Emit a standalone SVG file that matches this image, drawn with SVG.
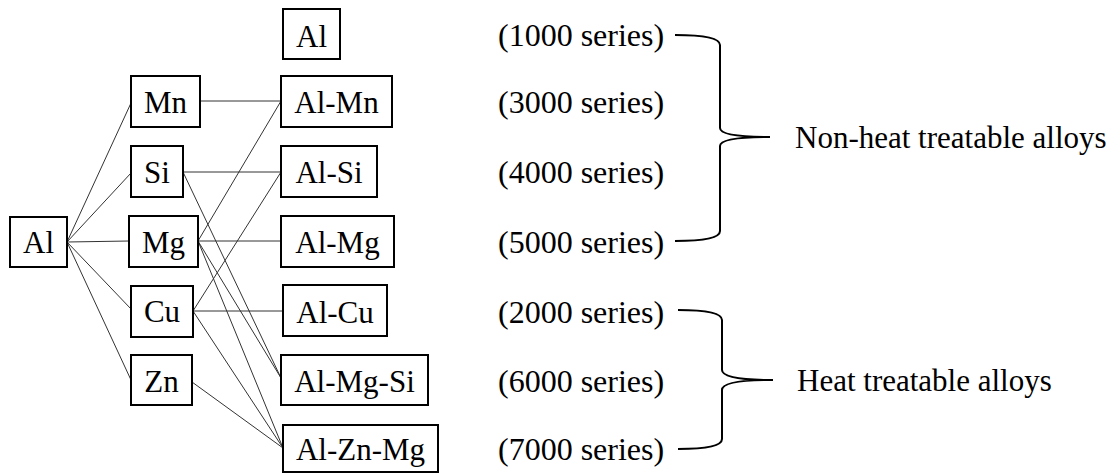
<svg xmlns="http://www.w3.org/2000/svg" width="1117" height="474" viewBox="0 0 1117 474">
<style>
  .box { fill: #ffffff; stroke: #000000; stroke-width: 2; }
  .lbl { font-family: "Liberation Serif", "Times New Roman", serif; font-size: 31px; fill: #000000; text-anchor: middle; }
  .ser { font-family: "Liberation Serif", "Times New Roman", serif; font-size: 32px; fill: #000000; }
  .grp { font-family: "Liberation Serif", "Times New Roman", serif; font-size: 31px; fill: #000000; }
  .con { stroke: #333333; stroke-width: 1; fill: none; }
  .brace { stroke: #000000; stroke-width: 2; fill: none; }
</style>
<rect width="1117" height="474" fill="#ffffff"/>

<g id="connectors">
  <line class="con" x1="67" y1="242" x2="131" y2="103"/>
  <line class="con" x1="67" y1="242" x2="131" y2="173"/>
  <line class="con" x1="67" y1="242" x2="129" y2="241"/>
  <line class="con" x1="67" y1="242" x2="131" y2="309"/>
  <line class="con" x1="67" y1="242" x2="131" y2="380"/>
  <line class="con" x1="200" y1="101" x2="281" y2="101"/>
  <line class="con" x1="183" y1="172" x2="281" y2="172"/>
  <line class="con" x1="183" y1="172" x2="281" y2="378"/>
  <line class="con" x1="198" y1="241" x2="281" y2="101"/>
  <line class="con" x1="198" y1="241" x2="281" y2="241"/>
  <line class="con" x1="198" y1="241" x2="281" y2="378"/>
  <line class="con" x1="198" y1="241" x2="283" y2="448"/>
  <line class="con" x1="193" y1="311" x2="281" y2="172"/>
  <line class="con" x1="193" y1="311" x2="283" y2="311"/>
  <line class="con" x1="193" y1="311" x2="283" y2="448"/>
  <line class="con" x1="192" y1="382" x2="283" y2="448"/>
</g>

<g id="node-al-base"><rect class="box" x="10" y="217" width="57" height="50"/><text class="lbl" x="38.5" y="253">Al</text></g>
<g id="node-mn"><rect class="box" x="131" y="76" width="69" height="51"/><text class="lbl" x="165.5" y="113">Mn</text></g>
<g id="node-si"><rect class="box" x="131" y="146" width="52" height="51"/><text class="lbl" x="157" y="183">Si</text></g>
<g id="node-mg"><rect class="box" x="129" y="216" width="69" height="51"/><text class="lbl" x="163.5" y="253">Mg</text></g>
<g id="node-cu"><rect class="box" x="131" y="286" width="62" height="51"/><text class="lbl" x="162" y="322">Cu</text></g>
<g id="node-zn"><rect class="box" x="131" y="355" width="61" height="50"/><text class="lbl" x="161.5" y="392">Zn</text></g>

<g id="node-al"><rect class="box" x="283" y="9" width="57" height="50"/><text class="lbl" x="311.5" y="47">Al</text></g>
<g id="node-al-mn"><rect class="box" x="281" y="76" width="111" height="51"/><text class="lbl" x="336.5" y="113">Al-Mn</text></g>
<g id="node-al-si"><rect class="box" x="281" y="146" width="96" height="51"/><text class="lbl" x="329" y="183">Al-Si</text></g>
<g id="node-al-mg"><rect class="box" x="281" y="216" width="113" height="51"/><text class="lbl" x="337.5" y="253">Al-Mg</text></g>
<g id="node-al-cu"><rect class="box" x="283" y="285" width="104" height="51"/><text class="lbl" x="335" y="323">Al-Cu</text></g>
<g id="node-al-mg-si"><rect class="box" x="281" y="355" width="147" height="50"/><text class="lbl" x="354.5" y="392">Al-Mg-Si</text></g>
<g id="node-al-zn-mg"><rect class="box" x="283" y="425" width="155" height="47"/><text class="lbl" x="360.5" y="460">Al-Zn-Mg</text></g>

<g id="series">
  <text class="ser" x="498" y="46">(1000 series)</text>
  <text class="ser" x="498" y="113">(3000 series)</text>
  <text class="ser" x="498" y="183">(4000 series)</text>
  <text class="ser" x="498" y="253">(5000 series)</text>
  <text class="ser" x="498" y="323">(2000 series)</text>
  <text class="ser" x="498" y="392">(6000 series)</text>
  <text class="ser" x="498" y="460">(7000 series)</text>
</g>

<g id="brace-non-heat">
  <path class="brace" d="M675,35 Q720,35 720,45 L720,128 Q720,137 770,137 Q720,137 720,146 L720,231 Q720,241 675,241"/>
  <text class="grp" x="795" y="148">Non-heat treatable alloys</text>
</g>
<g id="brace-heat">
  <path class="brace" d="M678,310 Q722,310 722,320 L722,370 Q722,380 773,380 Q722,380 722,390 L722,439 Q722,449 678,449"/>
  <text class="grp" x="797" y="391">Heat treatable alloys</text>
</g>
</svg>
